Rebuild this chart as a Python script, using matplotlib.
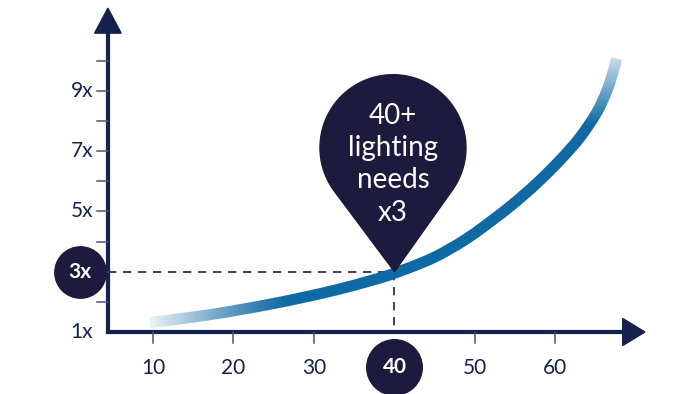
"""Lighting needs vs age infographic"""
import numpy as np
import matplotlib.pyplot as plt
from matplotlib.patches import Polygon, PathPatch
from matplotlib.path import Path
from matplotlib.transforms import IdentityTransform

# curve: age -> lighting need factor
age = [9.6, 12.5, 16.7, 20.8, 24.9, 28.7, 32.8, 37.0, 40.0, 44.8,
       49.0, 53.1, 55.6, 58.1, 60.6, 63.0, 65.1, 66.4, 67.2, 67.6]
factor = [1.31, 1.41, 1.56, 1.74, 1.94, 2.15, 2.40, 2.70, 2.95, 3.46,
          4.10, 4.90, 5.44, 6.04, 6.71, 7.44, 8.27, 9.01, 9.67, 10.07]

x_ticks = [10, 20, 30, 40, 50, 60]
y_ticks = [1, 2, 3, 4, 5, 6, 7, 8, 9, 10]
y_labels = {1: "1x", 5: "5x", 7: "7x", 9: "9x"}

mark_age = 40
mark_factor = 3
bubble_text = "40+\nlighting\nneeds\nx3"

NAVY = "#15224f"
DARK = "#1c1a3d"
BLUE = "#0f6aa3"
FONT = "Lato"

fig = plt.figure(figsize=(7, 3.94), dpi=100)
ax = fig.add_axes([0, 0, 1, 1])
ax.set_xlim(-9.0, 77.95)
ax.set_ylim(-1.056, 12.01)
ax.axis("off")

AX_X = 4.4

# main curve: smooth path through the read points (Catmull-Rom -> cubic Bezier)
P = np.column_stack([age, factor])
verts = [P[0]]
codes = [Path.MOVETO]
for i in range(len(P) - 1):
    p0 = P[max(i - 1, 0)]
    p1, p2 = P[i], P[i + 1]
    p3 = P[min(i + 2, len(P) - 1)]
    verts += [p1 + (p2 - p0) / 6, p2 - (p3 - p1) / 6, p2]
    codes += [Path.CURVE4] * 3
ax.add_patch(PathPatch(Path(verts, codes), fill=False, edgecolor=BLUE, lw=8,
                       capstyle="butt", joinstyle="round", zorder=2))

# fade at both ends (white overlays)
n = 200
left = np.ones((1, n, 4))
left[0, :, 3] = np.linspace(1, 0, n) ** 1.2
ax.imshow(left, extent=(8.5, 27, 1.1, 2.6), aspect="auto",
          interpolation="bilinear", zorder=3)
top = np.ones((n, 1, 4))
top[:, 0, 3] = np.clip(np.linspace(-0.2, 1.1, n), 0, 1)
ax.imshow(top, extent=(60, 72, 7.3, 11.0), aspect="auto", origin="lower",
          interpolation="bilinear", zorder=3)

# axes with arrows
ax.plot([AX_X, 68.4], [1, 1], color=NAVY, lw=3, solid_capstyle="projecting", zorder=4)
ax.plot([AX_X, AX_X], [1, 10.95], color=NAVY, lw=3, solid_capstyle="projecting", zorder=4)
ax.add_patch(Polygon([[71.1, 1], [68.35, 1.45], [68.35, 0.55]], color=NAVY, zorder=4))
ax.add_patch(Polygon([[AX_X, 11.74], [AX_X - 1.65, 10.91], [AX_X + 1.65, 10.91]],
                     color=NAVY, zorder=4))

# ticks
for t in y_ticks[1:]:
    ax.plot([3.1, AX_X], [t, t], color="#4a5375", lw=1.1, zorder=4)
for t, lab in y_labels.items():
    ax.text(2.55, t, lab, ha="right", va="center", fontsize=15,
            color=NAVY, family=FONT)
for t in x_ticks:
    if t == mark_age:
        continue
    ax.plot([t, t], [1, 0.65], color="#4a5375", lw=1.1, zorder=4)
    ax.text(t, -0.19, str(t), ha="center", va="center", fontsize=15,
            color=NAVY, family=FONT)

# dashed guides
ax.plot([AX_X, mark_age], [mark_factor, mark_factor], color=NAVY, lw=1.2,
        dashes=(5, 4), zorder=1)
ax.plot([mark_age, mark_age], [mark_factor, 1], color=NAVY, lw=1.2,
        dashes=(5, 4), zorder=1)

# circled labels
ax.plot(0.93, mark_factor, "o", ms=37, color=DARK, zorder=5)
ax.text(0.93, mark_factor, f"{mark_factor}x", ha="center", va="center",
        fontsize=15, color="white", fontweight="bold", family=FONT, zorder=6)
ax.plot(mark_age, -0.16, "o", ms=40, color=DARK, zorder=5)
ax.text(mark_age, -0.16, str(mark_age), ha="center", va="center",
        fontsize=15, color="white", fontweight="bold", family=FONT, zorder=6)

# pin bubble
tip = ax.transData.transform((mark_age, mark_factor))
center = tip + np.array([-1.5, 124.0])
r = 73.0
d = tip - center
dist = np.hypot(*d)
base = np.arctan2(d[1], d[0])
half = np.arccos(r / dist)
ang = np.linspace(base + half, base + 2 * np.pi - half, 120)
pts = np.column_stack([center[0] + r * np.cos(ang), center[1] + r * np.sin(ang)])
pts = np.vstack([pts, tip])
ax.add_patch(Polygon(pts, closed=True, color=DARK, transform=IdentityTransform(), zorder=7))
ax.text(center[0], tip[1] + 107.5, bubble_text, ha="center", va="center",
        fontsize=20, color="white", family=FONT,
        linespacing=1.3, transform=IdentityTransform(), zorder=8)

fig.savefig("out.png", dpi=100)
